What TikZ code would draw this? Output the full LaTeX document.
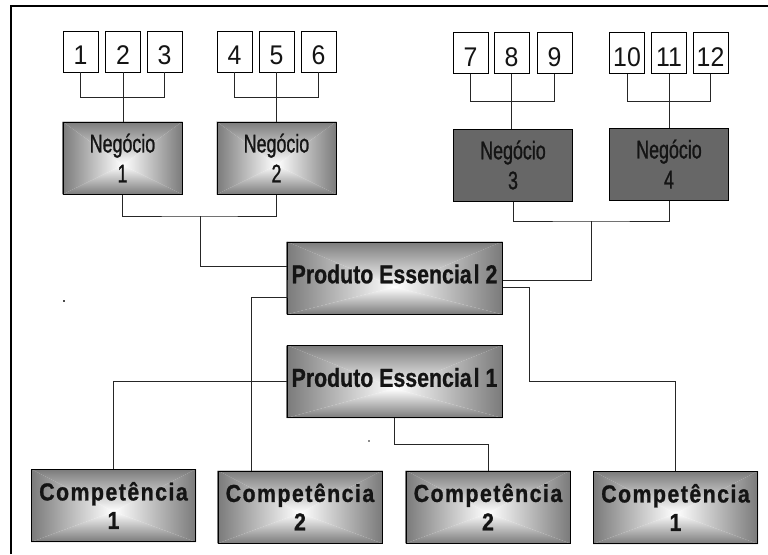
\documentclass[tikz,border=0pt]{standalone}
\usepackage{fontspec}
\setmainfont{Liberation Sans}
\newfontfamily\digitfont[FakeStretch=0.92]{Liberation Sans}
\newfontfamily\narrowfont[FakeStretch=0.70,FakeBold=1]{Liberation Sans}
\newfontfamily\prodfont[FakeStretch=0.82,FakeBold=0.8]{Liberation Sans}
\newfontfamily\compfont[FakeStretch=0.87,LetterSpace=6,FakeBold=1]{Liberation Sans}
\usetikzlibrary{calc}

\definecolor{ink}{HTML}{141414}
\definecolor{edgegray}{HTML}{7A7A7A}
\definecolor{darkfill}{HTML}{676767}

\pgfdeclarelayer{background}
\pgfsetlayers{background,main}

% square fountain fill: four triangles shading from the edges to a bright spot
\newcommand\boxglow[2]{%
  \coordinate (#1-c) at ($(#1.center)+(0,#2)$);
  \shade[top color=edgegray, bottom color=white]
    (#1.north west) -- (#1.north east) -- (#1-c) -- cycle;
  \shade[bottom color=edgegray, top color=white]
    (#1.south west) -- (#1.south east) -- (#1-c) -- cycle;
  \shade[left color=edgegray, right color=white]
    (#1.north west) -- (#1.south west) -- (#1-c) -- cycle;
  \shade[right color=edgegray, left color=white]
    (#1.north east) -- (#1.south east) -- (#1-c) -- cycle;
}

\tikzset{
  frame/.style={draw=black, line width=2pt},
  conn/.style={draw=black!85, line width=0.8pt},
  numbox/.style={draw=black, line width=0.8pt, fill=white, text=ink,
    minimum width=35pt, minimum height=41pt, inner sep=0pt,
    text height=26.3pt, text depth=0pt,
    font=\digitfont\fontsize{27}{27}\selectfont},
  boxbase/.style={draw=black, line width=1pt, inner sep=0pt,
    align=center, text=ink},
  negbox/.style={boxbase, minimum width=119pt, minimum height=72pt,
    font=\narrowfont\fontsize{25.5}{30}\selectfont,
    execute at begin node={\rule{0pt}{23.2pt}}},
  darkbox/.style={negbox, fill=darkfill},
  pebox/.style={boxbase, minimum width=215pt, minimum height=72pt,
    text height=19pt, text depth=8.4pt,
    font=\prodfont\bfseries\fontsize{26}{30}\selectfont},
  compbox/.style={boxbase, minimum width=164pt, minimum height=72pt,
    font=\compfont\bfseries\fontsize{24.5}{28.5}\selectfont,
    execute at begin node={\rule{0pt}{24pt}}},
}

\begin{document}
\begin{tikzpicture}[x=1pt,y=-1pt]
\useasboundingbox (0,0) rectangle (768,554);

% outer frame (left and top edges)
\draw[frame] (11,554) -- (11,6) -- (768,6);

% numbered boxes
\node[numbox] (b1)  at (80.5,51.5)  {1};
\node[numbox] (b2)  at (123,51.5)   {2};
\node[numbox] (b3)  at (164.5,51.5) {3};
\node[numbox] (b4)  at (234.5,51.5) {4};
\node[numbox] (b5)  at (276.5,51.5) {5};
\node[numbox] (b6)  at (318.5,51.5) {6};
\node[numbox] (b7)  at (470.5,53)   {7};
\node[numbox] (b8)  at (511.5,53)   {8};
\node[numbox] (b9)  at (554.5,53)   {9};
\node[numbox] (b10) at (627,53)     {10};
\node[numbox] (b11) at (669,53)     {11};
\node[numbox] (b12) at (710.5,53)   {12};

% business units
\node[negbox]  (n1) at (122.5,158) {Negócio\\1};
\node[negbox]  (n2) at (276.5,158) {Negócio\\2};
\node[darkbox] (n3) at (513,165)   {Negócio\\3};
\node[darkbox] (n4) at (669,164)   {Negócio\\4};

% core products
\node[pebox] (pe2) at (394.5,278)   {Produto Essencia\kern2pt l 2};
\node[pebox] (pe1) at (394.5,381.5) {Produto Essencia\kern2pt l 1};

% competences
\node[compbox] (c1) at (113.5,505.5) {Competência\\1};
\node[compbox] (c2) at (300,507)     {Competência\\2};
\node[compbox] (c3) at (488,507)     {Competência\\2};
\node[compbox] (c4) at (675.5,507.5) {Competência\\1};

% gradient fills behind the shaded boxes
\begin{pgfonlayer}{background}
  \boxglow{n1}{7}
  \boxglow{n2}{7}
  \boxglow{pe2}{9}
  \boxglow{pe1}{7}
  \boxglow{c1}{6}
  \boxglow{c2}{6}
  \boxglow{c3}{6}
  \boxglow{c4}{6}
\end{pgfonlayer}

% numbered boxes to business units
\draw[conn] (b1.south) -- ++(0,25) -| (b3.south);
\draw[conn] (b2.south) -- (b2.south |- n1.north);
\draw[conn] (b4.south) -- ++(0,25) -| (b6.south);
\draw[conn] (b5.south) -- (b5.south |- n2.north);
\draw[conn] (b7.south) -- ++(0,27) -| (b9.south);
\draw[conn] (b8.south) -- (b8.south |- n3.north);
\draw[conn] (b10.south) -- ++(0,27) -| (b12.south);
\draw[conn] (b11.south) -- (b11.south |- n4.north);

% business units to core product 2
\coordinate (j1) at (200,216);
\draw[conn] (n1.south) |- (j1) -| (n2.south);
\draw[conn] (j1) |- ($(pe2.west)+(0,-12)$);
\coordinate (j2) at (591,221);
\draw[conn] (n3.south) |- (j2) -| (n4.south);
\draw[conn] (j2) |- ($(pe2.east)+(0,2)$);

% core product 2 to competences
\coordinate (j3) at (251,297);
\draw[conn] ($(pe2.west)+(1,2)$) |- (j3) -- (j3 |- c2.north);
\coordinate (j4) at (529,381);
\draw[conn] ($(pe2.east)+(0,9)$) -| (j4) -| (c4.north);

% core product 1 to competences
\draw[conn] (pe1.west) -| (c1.north);
\draw[conn] (pe1.south) -- ++(0,26) -| (c3.north);

% stray specks
\fill[black!70] (63,300) rectangle (65,302);
\fill[black!45] (368,440) rectangle (369.5,441.5);
\end{tikzpicture}
\end{document}
